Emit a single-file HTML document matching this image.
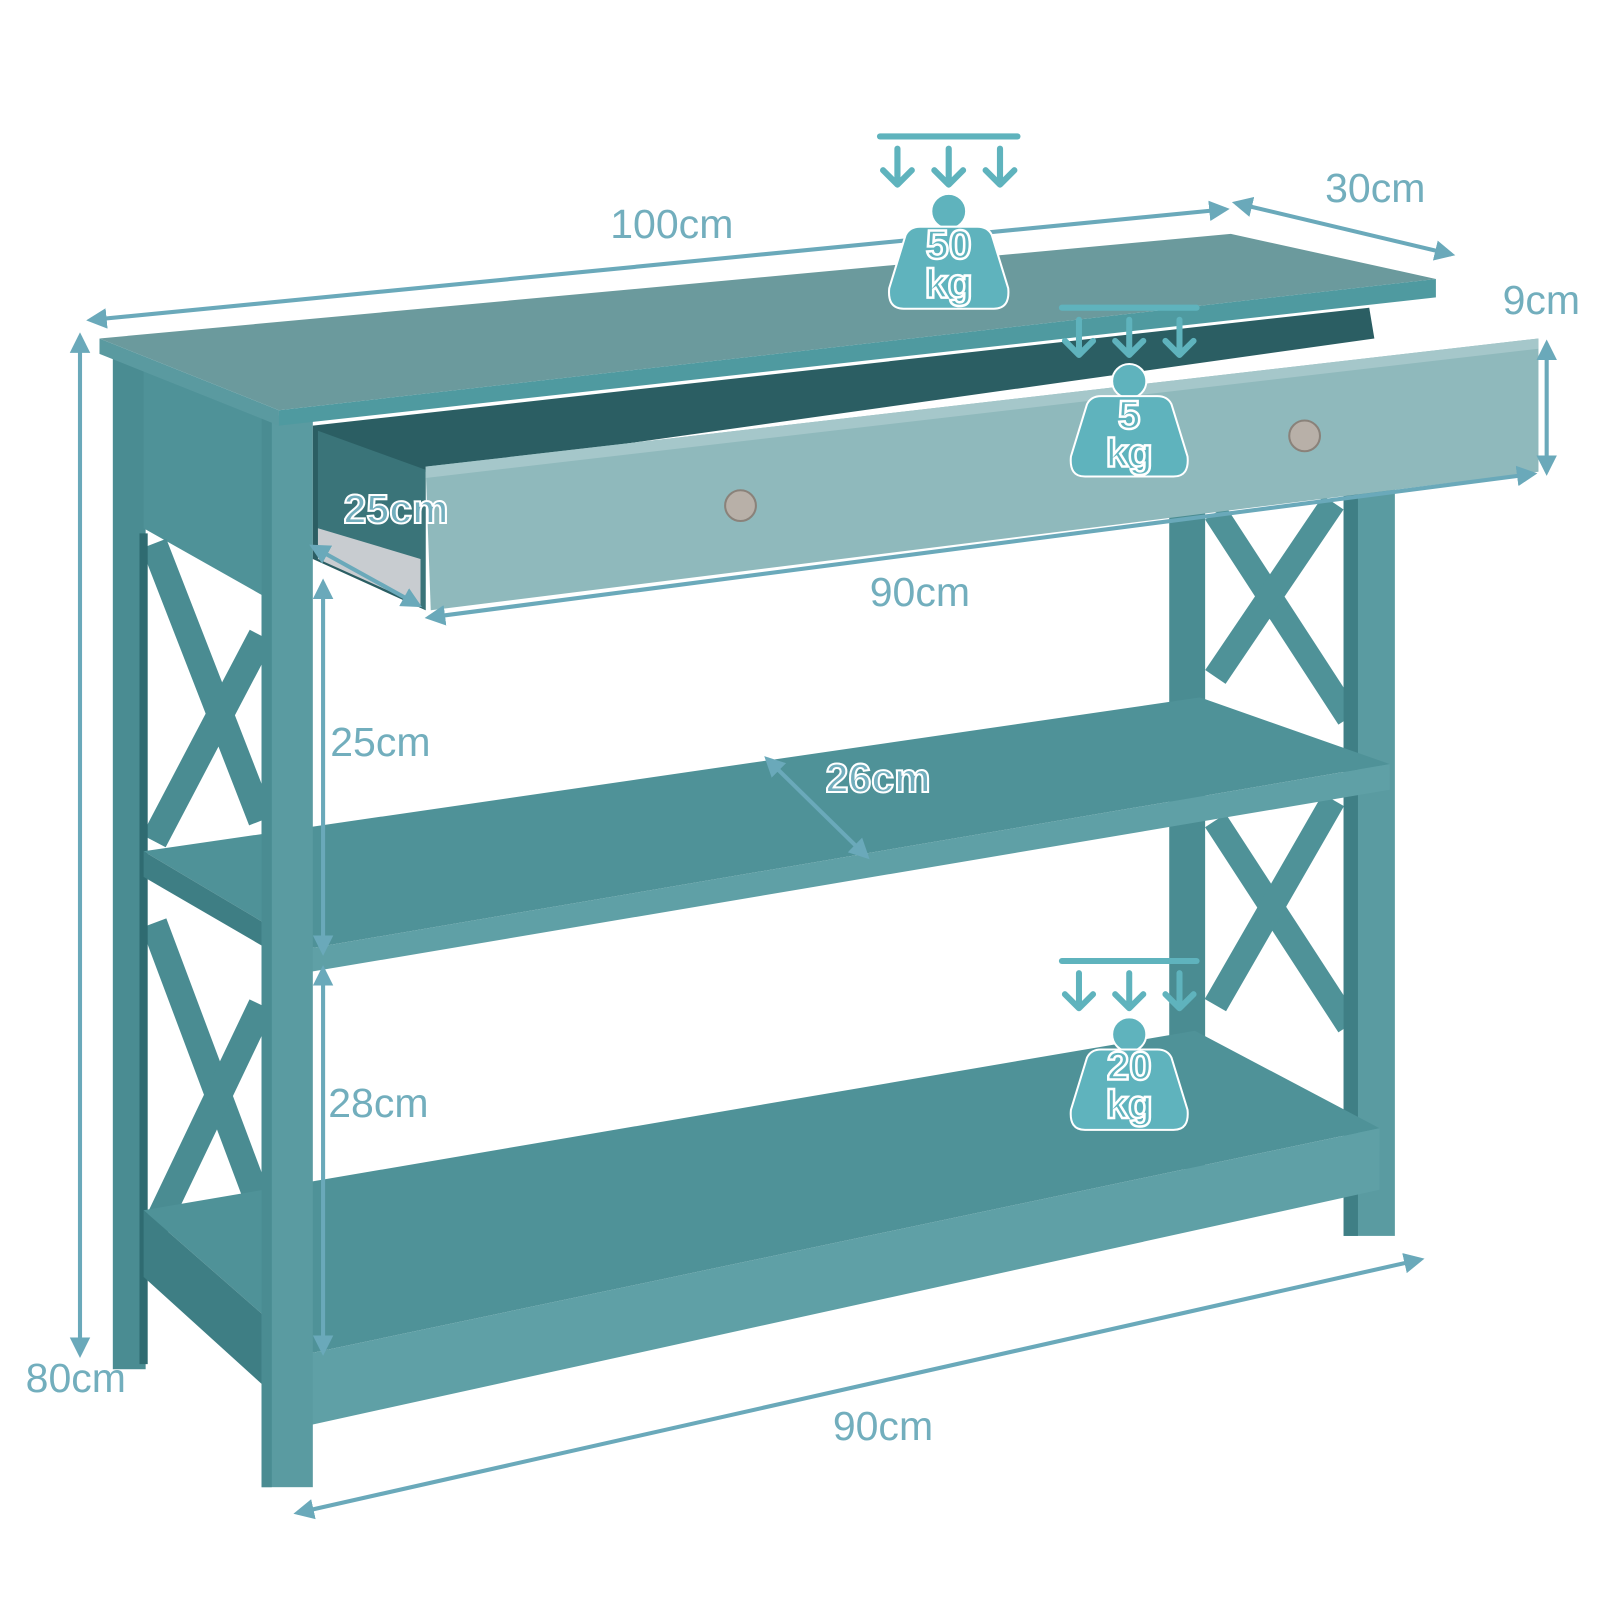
<!DOCTYPE html>
<html><head><meta charset="utf-8"><style>
html,body{margin:0;padding:0;background:#fff;width:1600px;height:1600px;overflow:hidden}
svg{display:block}
.lbl{font-family:"Liberation Sans",sans-serif;font-size:40px;fill:#72aebd}
.lblo{font-family:"Liberation Sans",sans-serif;font-size:40px;fill:#72aebd;stroke:#fff;stroke-width:2;font-weight:bold}
.wt{font-family:"Liberation Sans",sans-serif;font-size:40px;fill:#5fb3bd;stroke:#fff;stroke-width:2.5;font-weight:bold;text-anchor:middle}
</style></head><body>
<svg width="1600" height="1600" viewBox="0 0 1560 1560" xmlns="http://www.w3.org/2000/svg">
<defs>
<marker id="ah" markerWidth="5" markerHeight="5" refX="4" refY="2.5" orient="auto-start-reverse" markerUnits="strokeWidth">
<path d="M0,0 L5,2.5 L0,5 z" fill="#6aa9ba"/></marker>
<g id="wicon">
<rect x="-70" y="-3" width="140" height="6" rx="3" fill="#5fb3bd"/>
<g stroke="#5fb3bd" stroke-width="6" fill="none" stroke-linecap="round" stroke-linejoin="round">
<path d="M-50,12 V46 M-64,33 L-50,47 L-36,33"/>
<path d="M0,12 V46 M-14,33 L0,47 L14,33"/>
<path d="M50,12 V46 M36,33 L50,47 L64,33"/>
</g>
<circle cx="0" cy="73" r="17" fill="#5fb3bd" stroke="#fff" stroke-width="2"/>
<path d="M-28,88 H28 Q38,88 42,96 L58,148 Q60,168 44,168 H-44 Q-60,168 -58,148 L-42,96 Q-38,88 -28,88 Z" fill="#5fb3bd" stroke="#fff" stroke-width="2"/>
</g>
</defs>

<rect x="110" y="350" width="32" height="985" fill="#4a8c92"/>
<rect x="1140" y="480" width="35" height="660" fill="#4a8c92"/>
<polygon points="140,360 255,405 255,580 140,515" fill="#4f9298"/>
<g stroke="#4a8c92" stroke-width="26">
<line x1="150" y1="530" x2="255" y2="800"/><line x1="255" y1="620" x2="150" y2="820"/>
<line x1="150" y1="900" x2="255" y2="1180"/><line x1="255" y1="980" x2="150" y2="1200"/>
</g>
<g stroke="#2f6b71" stroke-width="8">
<line x1="140" y1="520" x2="140" y2="1330"/>
</g>
<g stroke="#4f9298" stroke-width="24">
<line x1="1185" y1="500" x2="1315" y2="700"/><line x1="1300" y1="490" x2="1185" y2="660"/>
<line x1="1185" y1="800" x2="1315" y2="1000"/><line x1="1300" y1="780" x2="1185" y2="980"/>
</g>
<rect x="1310" y="470" width="50" height="735" fill="#5a9ba1"/>
<rect x="1310" y="470" width="14" height="735" fill="#3f7f85"/>

<polygon points="140,830 1170,680 1355,745 300,925" fill="#4f9298"/>
<polygon points="300,925 1355,745 1355,770 300,948" fill="#5fa0a6"/>
<polygon points="140,830 300,925 300,948 140,855" fill="#3e7e84"/>
<polygon points="140,1180 1165,1005 1345,1100 300,1320" fill="#4f9298"/>
<polygon points="300,1320 1345,1100 1345,1160 300,1390" fill="#5fa0a6"/>
<polygon points="140,1180 300,1320 300,1390 140,1245" fill="#3e7e84"/>

<rect x="255" y="405" width="50" height="1045" fill="#5a9ba1"/>
<rect x="255" y="405" width="10" height="1045" fill="#4a8c92"/>

<polygon points="97,330 1200,228 1400,272 272,400" fill="#6b9a9d"/>
<polygon points="97,330 272,400 272,415 97,345" fill="#5a9aa0"/>
<polygon points="272,400 1400,272 1400,290 272,415" fill="#4f9aa0"/>
<polygon points="305,415 1335,300 1340,330 415,460 415,595 305,545" fill="#2b5e63"/>
<polygon points="310,420 415,458 415,595 310,520" fill="#3a7479"/>
<polygon points="310,515 410,545 410,590 310,545" fill="#c8ccd0"/>
<polygon points="415,455 1500,330 1500,460 420,595" fill="#8fb9bc"/>
<polygon points="415,455 1500,330 1500,340 415,466" fill="#a5c7ca"/>
<circle cx="722" cy="493" r="15" fill="#b8b0a8" stroke="#8a827a" stroke-width="2"/>
<circle cx="1272" cy="425" r="15" fill="#b8b0a8" stroke="#8a827a" stroke-width="2"/>

<g stroke="#6aa9ba" stroke-width="4" fill="none">
<line x1="88" y1="312" x2="1195" y2="204" marker-start="url(#ah)" marker-end="url(#ah)"/>
<line x1="1205" y1="198" x2="1415" y2="248" marker-start="url(#ah)" marker-end="url(#ah)"/>
<line x1="1508" y1="335" x2="1508" y2="460" marker-start="url(#ah)" marker-end="url(#ah)"/>
<line x1="78" y1="328" x2="78" y2="1320" marker-start="url(#ah)" marker-end="url(#ah)"/>
<line x1="418" y1="602" x2="1495" y2="462" marker-start="url(#ah)" marker-end="url(#ah)"/>
<line x1="305" y1="533" x2="408" y2="590" marker-start="url(#ah)" marker-end="url(#ah)"/>
<line x1="315" y1="568" x2="315" y2="928" marker-start="url(#ah)" marker-end="url(#ah)"/>
<line x1="315" y1="945" x2="315" y2="1318" marker-start="url(#ah)" marker-end="url(#ah)"/>
<line x1="748" y1="740" x2="845" y2="835" marker-start="url(#ah)" marker-end="url(#ah)"/>
<line x1="290" y1="1475" x2="1385" y2="1228" marker-start="url(#ah)" marker-end="url(#ah)"/>
</g>

<text class="lbl" x="595" y="232">100cm</text>
<text class="lbl" x="1292" y="197">30cm</text>
<text class="lbl" x="1465" y="306">9cm</text>
<text class="lblo" x="335" y="510">25cm</text>
<text class="lbl" x="848" y="591">90cm</text>
<text class="lbl" x="322" y="737">25cm</text>
<text class="lblo" x="805" y="772">26cm</text>
<text class="lbl" x="320" y="1089">28cm</text>
<text class="lbl" x="25" y="1357">80cm</text>
<text class="lbl" x="812" y="1404">90cm</text>

<g transform="translate(925,133)"><use href="#wicon"/>
<text class="wt" x="0" y="119">50</text><text class="wt" x="0" y="157">kg</text></g>
<g transform="translate(1101,300) scale(0.98)"><use href="#wicon"/>
<text class="wt" x="0" y="120">5</text><text class="wt" x="0" y="158">kg</text></g>
<g transform="translate(1101,937) scale(0.98)"><use href="#wicon"/>
<text class="wt" x="0" y="118">20</text><text class="wt" x="0" y="156">kg</text></g>
</svg>
</body></html>
